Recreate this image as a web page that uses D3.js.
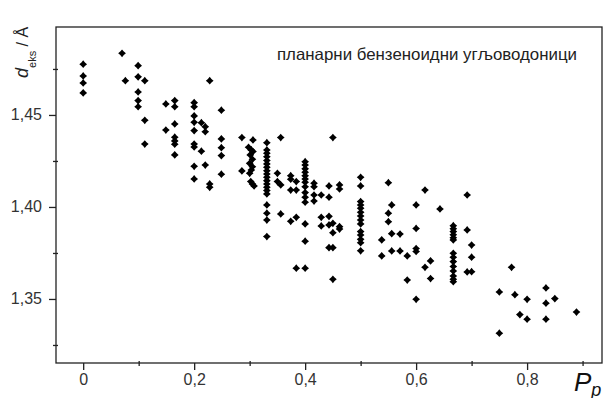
<!DOCTYPE html>
<html>
<head>
<meta charset="utf-8">
<script src="https://cdn.jsdelivr.net/npm/d3@7"></script>
<style>
  body { margin: 0; background: #fff; }
  svg { display: block; font-family: "Liberation Sans", Arial, sans-serif; }
</style>
</head>
<body>
<div id="chart"></div>
<script>
// P_p values (x), one entry per point
const pp = [
  0, 0, 0, 0,
  0.070, 0.076,
  0.099, 0.099, 0.099, 0.099, 0.099,
  0.111, 0.111, 0.111,
  0.149, 0.149,
  0.165, 0.165, 0.165, 0.165, 0.165, 0.165, 0.165,
  0.2, 0.2, 0.2, 0.2, 0.2, 0.2, 0.2, 0.2, 0.2,
  0.213, 0.213,
  0.22, 0.22, 0.22,
  0.228, 0.228, 0.228,
  0.249, 0.249, 0.249, 0.249, 0.249,
  0.286, 0.286,
  0.306, 0.298, 0.303, 0.306, 0.301, 0.305, 0.300, 0.305, 0.303, 0.300, 0.302, 0.305, 0.308,
  0.331, 0.331, 0.331, 0.331, 0.331, 0.331, 0.331, 0.331, 0.331, 0.331,
  0.331, 0.331, 0.331, 0.331, 0.331, 0.331, 0.331, 0.331, 0.331,
  0.35, 0.35,
  0.356, 0.356, 0.356,
  0.374, 0.374, 0.374, 0.374,
  0.384, 0.384, 0.384, 0.384,
  0.4, 0.4, 0.4, 0.4, 0.4, 0.4, 0.4, 0.4, 0.4, 0.4, 0.4, 0.4, 0.4, 0.4,
  0.416, 0.416, 0.416, 0.416,
  0.429, 0.429, 0.429,
  0.443, 0.443, 0.443, 0.443, 0.443,
  0.45, 0.45, 0.45, 0.45, 0.45,
  0.462, 0.462, 0.462, 0.462,
  0.5, 0.5, 0.5, 0.5, 0.5, 0.5, 0.5, 0.5, 0.5, 0.5, 0.5, 0.5, 0.5, 0.5,
  0.538, 0.538,
  0.55, 0.55, 0.55,
  0.556, 0.556, 0.556,
  0.571, 0.571,
  0.584, 0.584,
  0.6, 0.6, 0.6, 0.6, 0.6,
  0.616, 0.616,
  0.626, 0.626,
  0.643,
  0.667, 0.667, 0.667, 0.667, 0.667, 0.667, 0.667,
  0.667, 0.667, 0.667, 0.667, 0.667, 0.667, 0.667,
  0.692, 0.692, 0.692,
  0.7, 0.7, 0.7,
  0.75, 0.75,
  0.772, 0.778, 0.787,
  0.8, 0.8,
  0.834, 0.834, 0.834,
  0.85, 0.889
];

// d_eks values (y) in the same order
const deks = [
  1.4776, 1.4712, 1.4674, 1.4620,
  1.4835, 1.4686,
  1.4768, 1.4707, 1.4625, 1.4578, 1.4545,
  1.4686, 1.4471, 1.4342,
  1.4560, 1.4418,
  1.4578, 1.4545, 1.4451, 1.4379, 1.4359, 1.4341, 1.4283,
  1.4567, 1.4545, 1.4495, 1.4460, 1.4415, 1.4342, 1.4326, 1.4221, 1.4152,
  1.4458, 1.4303,
  1.4436, 1.4409, 1.4228,
  1.4686, 1.4125, 1.4107,
  1.4526, 1.4370, 1.4322, 1.4279, 1.4178,
  1.4377, 1.4196,
  1.4364, 1.4324, 1.4310, 1.4301, 1.4283, 1.4259, 1.4237, 1.4219, 1.4201, 1.4183, 1.4138, 1.4125, 1.4114,
  1.4349, 1.4310, 1.4292, 1.4273, 1.4252, 1.4234, 1.4216, 1.4197, 1.4179, 1.4161,
  1.4143, 1.4125, 1.4107, 1.4089, 1.4071, 1.4011, 1.3966, 1.3929, 1.3839,
  1.4183, 1.4138,
  1.4377, 1.4120, 1.3962,
  1.4170, 1.4151, 1.4092, 1.3922,
  1.4138, 1.4092, 1.3944, 1.3667,
  1.4246, 1.4228, 1.4207, 1.4189, 1.4170, 1.4152, 1.4134, 1.4110, 1.4078, 1.4053, 1.4026, 1.3908, 1.3814, 1.3667,
  1.4129, 1.4110, 1.4065, 1.4032,
  1.4065, 1.3944, 1.3897,
  1.4114, 1.4053, 1.3949, 1.3902, 1.3779,
  1.4377, 1.3911, 1.3860, 1.3779, 1.3607,
  1.4120, 1.4098, 1.3893, 1.3880,
  1.4161, 1.4114, 1.4029, 1.4011, 1.3993, 1.3971, 1.3951, 1.3929, 1.3908, 1.3866, 1.3848, 1.3824, 1.3806, 1.3762,
  1.3821, 1.3734,
  1.4132, 1.3966, 1.3920,
  1.4011, 1.3855, 1.3761,
  1.3853, 1.3761,
  1.3734, 1.3603,
  1.4011, 1.3883, 1.3774, 1.3758, 1.3498,
  1.4092, 1.3672,
  1.3707, 1.3611,
  1.3989,
  1.3898, 1.3882, 1.3866, 1.3849, 1.3833, 1.3821, 1.3748,
  1.3727, 1.3703, 1.3676, 1.3652, 1.3625, 1.3607, 1.3594,
  1.4065, 1.3875, 1.3647,
  1.3793, 1.3727, 1.3648,
  1.3538, 1.3314,
  1.3672, 1.3523, 1.3415,
  1.3498, 1.3390,
  1.3560, 1.3477, 1.3390,
  1.3502, 1.3429
];

const xMajor = [0, 0.2, 0.4, 0.6, 0.8];
const xMinor = [0.1, 0.3, 0.5, 0.7, 0.9];
const yMajor = [1.35, 1.40, 1.45];
const yMinor = [1.325, 1.375, 1.425, 1.475];

const title = 'планарни бензеноидни угљоводоници';

const width = 604, height = 398;
const margin = { top: 27, right: 2, bottom: 35, left: 56 };

const svg = d3.select('#chart').append('svg')
  .attr('width', width)
  .attr('height', height);

const x = d3.scaleLinear()
  .domain([-0.049, 0.935])
  .range([margin.left, width - margin.right]);

const y = d3.scaleLinear()
  .domain([1.3152, 1.4978])
  .range([height - margin.bottom, margin.top]);

const comma = f => d => d === 0 ? '0' : d3.format(f)(d).replace('.', ',');

// frame
svg.append('rect')
  .attr('x', x.range()[0])
  .attr('y', y.range()[1])
  .attr('width', x.range()[1] - x.range()[0])
  .attr('height', y.range()[0] - y.range()[1])
  .attr('fill', 'none')
  .attr('stroke', '#222')
  .attr('stroke-width', 1.3);

// x axis
svg.append('g')
  .attr('transform', `translate(0, ${y.range()[0]})`)
  .call(d3.axisBottom(x).tickValues(xMajor).tickSize(7).tickPadding(4).tickFormat(comma('.1f')));
svg.append('g')
  .attr('transform', `translate(0, ${y.range()[0]})`)
  .call(d3.axisBottom(x).tickValues(xMinor).tickSize(3).tickFormat(''))
  .selectAll('line').attr('y1', -2);

// y axis
const gy = svg.append('g')
  .attr('transform', `translate(${x.range()[0]}, 0)`)
  .call(d3.axisLeft(y).tickValues(yMajor).tickSize(7).tickPadding(7).tickFormat(comma('.2f')));
svg.append('g')
  .attr('transform', `translate(${x.range()[0]}, 0)`)
  .call(d3.axisLeft(y).tickValues(yMinor).tickSize(3).tickFormat(''))
  .selectAll('line').attr('x1', 2);

svg.selectAll('.domain').remove();
svg.selectAll('.tick line').attr('stroke', '#222').attr('stroke-width', 1.3);
svg.selectAll('.tick text')
  .attr('fill', '#333')
  .style('font-size', '16px')
  .style('font-family', '"Liberation Sans", Arial, sans-serif');
gy.selectAll('.tick text').attr('dy', '0.3em');

// point marker: small four-point diamond
const star = {
  draw(context, size) {
    const r = Math.sqrt(size) / 2, k = r * 0.46;
    context.moveTo(0, -r);
    context.lineTo(k, -k);
    context.lineTo(r, 0);
    context.lineTo(k, k);
    context.lineTo(0, r);
    context.lineTo(-k, k);
    context.lineTo(-r, 0);
    context.lineTo(-k, -k);
    context.closePath();
  }
};
const sym = d3.symbol().type(star).size(60);

svg.append('g')
  .selectAll('path')
  .data(pp.map((v, i) => ({ x: v, y: deks[i] })))
  .join('path')
  .attr('transform', d => `translate(${x(d.x)}, ${y(d.y)})`)
  .attr('d', sym)
  .attr('fill', '#000');

// title inside the plot
svg.append('text')
  .attr('x', 277)
  .attr('y', 60)
  .attr('fill', '#222')
  .attr('textLength', 300)
  .attr('lengthAdjust', 'spacingAndGlyphs')
  .style('font-size', '16.5px')
  .text(title);

// x axis label
const xl = svg.append('text')
  .attr('x', 574)
  .attr('y', 391)
  .attr('fill', '#111')
  .style('font-style', 'italic');
xl.append('tspan').style('font-size', '26px').text('P');
xl.append('tspan').style('font-size', '18px').attr('dy', 5).text('p');

// y axis label
const yl = svg.append('text')
  .attr('transform', 'translate(28, 78) rotate(-90)')
  .attr('fill', '#222');
yl.append('tspan').style('font-size', '18px').style('font-style', 'italic').text('d');
yl.append('tspan').style('font-size', '11px').attr('dy', 8).text('eks');
yl.append('tspan').style('font-size', '16px').attr('dy', -8).text(' / Å');
</script>
</body>
</html>
